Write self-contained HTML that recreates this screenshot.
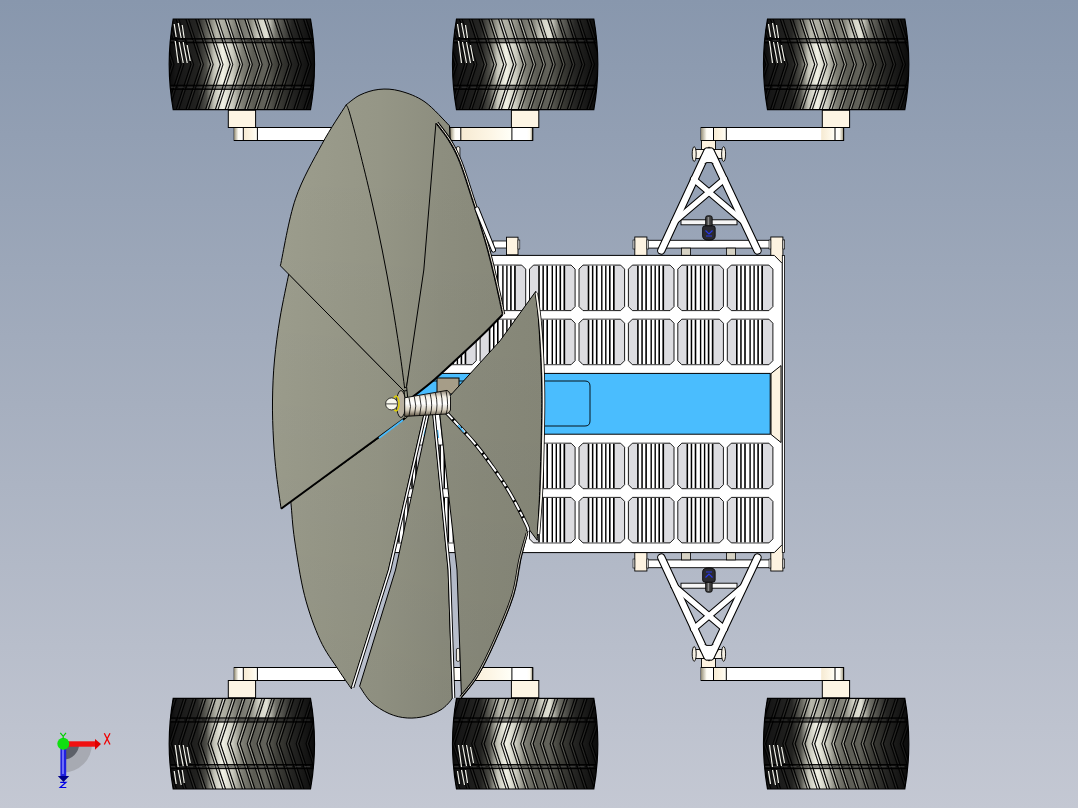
<!DOCTYPE html>
<html><head><meta charset="utf-8"><title>Rover CAD</title>
<style>html,body{margin:0;padding:0;width:1078px;height:808px;overflow:hidden;background:#a6afbf}svg{display:block}</style>
</head><body>
<svg width="1078" height="808" viewBox="0 0 1078 808">
<defs><linearGradient id="bg" x1="0" y1="0" x2="0" y2="1">
<stop offset="0" stop-color="#8897ad"/><stop offset="0.5" stop-color="#a6afbf"/><stop offset="1" stop-color="#c4c8d3"/></linearGradient>
<linearGradient id="endL" x1="0" y1="0" x2="1" y2="0"><stop offset="0" stop-color="#9a937a"/><stop offset="0.45" stop-color="#fffdf5"/><stop offset="1" stop-color="#fff"/></linearGradient>
<linearGradient id="endR" x1="0" y1="0" x2="1" y2="0"><stop offset="0" stop-color="#fff"/><stop offset="0.55" stop-color="#fffdf5"/><stop offset="1" stop-color="#9a937a"/></linearGradient>
<linearGradient id="creamG" x1="0" y1="0" x2="1" y2="0"><stop offset="0" stop-color="#f6ead2"/><stop offset="0.6" stop-color="#fdf6e6"/><stop offset="1" stop-color="#fffff8"/></linearGradient>
<linearGradient id="petal" gradientUnits="userSpaceOnUse" x1="272" y1="0" x2="545" y2="0">
<stop offset="0" stop-color="#9d9e8e"/><stop offset="0.139" stop-color="#9a9b8b"/><stop offset="0.396" stop-color="#959686"/><stop offset="0.615" stop-color="#8d8e7f"/><stop offset="0.762" stop-color="#8a8b7c"/><stop offset="1" stop-color="#878879"/></linearGradient>
<linearGradient id="vshade" gradientUnits="userSpaceOnUse" x1="0" y1="150" x2="0" y2="720">
<stop offset="0" stop-color="#000" stop-opacity="0"/><stop offset="1" stop-color="#000" stop-opacity="0.05"/></linearGradient>
<linearGradient id="spring" x1="0" y1="0" x2="0" y2="1">
<stop offset="0" stop-color="#8a8070"/><stop offset="0.25" stop-color="#f4f0e6"/><stop offset="0.5" stop-color="#ffffff"/><stop offset="0.75" stop-color="#d8d0c0"/><stop offset="1" stop-color="#5a5040"/></linearGradient>

<clipPath id="tclip"><path d="M4,0 H141.3 Q149.3,45.35 141.3,90.7 H4 Q-4,45.35 4,0 Z"/></clipPath>
<linearGradient id="tgrad" x1="0" y1="0" x2="1" y2="0">
<stop offset="0" stop-color="#080808"/>
<stop offset="0.05" stop-color="#161616"/>
<stop offset="0.2" stop-color="#222220"/>
<stop offset="0.26" stop-color="#50504a"/>
<stop offset="0.31" stop-color="#c0c0b4"/>
<stop offset="0.37" stop-color="#f2f2e6"/>
<stop offset="0.44" stop-color="#c8c8bc"/>
<stop offset="0.5" stop-color="#808076"/>
<stop offset="0.58" stop-color="#5c5c54"/>
<stop offset="0.66" stop-color="#62625a"/>
<stop offset="0.74" stop-color="#3e3e38"/>
<stop offset="0.84" stop-color="#242422"/>
<stop offset="1" stop-color="#0a0a0a"/>
</linearGradient>
<linearGradient id="tgradHi" gradientUnits="userSpaceOnUse" x1="0" y1="0" x2="145.3" y2="0">
<stop offset="0" stop-color="#202020"/>
<stop offset="0.2" stop-color="#3a3a36"/>
<stop offset="0.28" stop-color="#c8c8bc"/>
<stop offset="0.37" stop-color="#ffffff"/>
<stop offset="0.48" stop-color="#e0e0d4"/>
<stop offset="0.62" stop-color="#b0b0a6"/>
<stop offset="0.72" stop-color="#808078"/>
<stop offset="0.85" stop-color="#3a3a36"/>
<stop offset="1" stop-color="#1a1a1a"/>
</linearGradient>
<linearGradient id="tgradTop" x1="0" y1="0" x2="1" y2="0">
<stop offset="0" stop-color="#080808"/>
<stop offset="0.05" stop-color="#161616"/>
<stop offset="0.2" stop-color="#262624"/>
<stop offset="0.27" stop-color="#6a6a62"/>
<stop offset="0.33" stop-color="#b8b8ac"/>
<stop offset="0.4" stop-color="#a8a89c"/>
<stop offset="0.48" stop-color="#707068"/>
<stop offset="0.56" stop-color="#8a8a80"/>
<stop offset="0.62" stop-color="#d4d4c8"/>
<stop offset="0.67" stop-color="#e0e0d4"/>
<stop offset="0.73" stop-color="#707068"/>
<stop offset="0.84" stop-color="#262624"/>
<stop offset="1" stop-color="#0a0a0a"/>
</linearGradient>
<g id="treadR">
<path d="M-23.1,-2 L-7.6,45.4 L-23.1,92.7" fill="none" stroke="#000" stroke-width="1.3" stroke-opacity="0.95"/>
<path d="M-21.8,-2 L-6.3,45.4 L-21.8,92.7" fill="none" stroke="url(#tgradHi)" stroke-width="0.8" stroke-opacity="0.8"/>
<path d="M-20.5,-2 L-5.0,45.4 L-20.5,92.7" fill="none" stroke="#000" stroke-width="1.1" stroke-opacity="0.9"/>
<path d="M-13.3,-2 L2.2,45.4 L-13.3,92.7" fill="none" stroke="#000" stroke-width="1.3" stroke-opacity="0.95"/>
<path d="M-12.0,-2 L3.5,45.4 L-12.0,92.7" fill="none" stroke="url(#tgradHi)" stroke-width="0.8" stroke-opacity="0.8"/>
<path d="M-10.7,-2 L4.8,45.4 L-10.7,92.7" fill="none" stroke="#000" stroke-width="1.1" stroke-opacity="0.9"/>
<path d="M-3.5,-2 L12.0,45.4 L-3.5,92.7" fill="none" stroke="#000" stroke-width="1.3" stroke-opacity="0.95"/>
<path d="M-2.2,-2 L13.3,45.4 L-2.2,92.7" fill="none" stroke="url(#tgradHi)" stroke-width="0.8" stroke-opacity="0.8"/>
<path d="M-0.9,-2 L14.6,45.4 L-0.9,92.7" fill="none" stroke="#000" stroke-width="1.1" stroke-opacity="0.9"/>
<path d="M6.3,-2 L21.8,45.4 L6.3,92.7" fill="none" stroke="#000" stroke-width="1.3" stroke-opacity="0.95"/>
<path d="M7.6,-2 L23.1,45.4 L7.6,92.7" fill="none" stroke="url(#tgradHi)" stroke-width="0.8" stroke-opacity="0.8"/>
<path d="M8.9,-2 L24.4,45.4 L8.9,92.7" fill="none" stroke="#000" stroke-width="1.1" stroke-opacity="0.9"/>
<path d="M16.1,-2 L31.6,45.4 L16.1,92.7" fill="none" stroke="#000" stroke-width="1.3" stroke-opacity="0.95"/>
<path d="M17.4,-2 L32.9,45.4 L17.4,92.7" fill="none" stroke="url(#tgradHi)" stroke-width="0.8" stroke-opacity="0.8"/>
<path d="M18.7,-2 L34.2,45.4 L18.7,92.7" fill="none" stroke="#000" stroke-width="1.1" stroke-opacity="0.9"/>
<path d="M25.9,-2 L41.4,45.4 L25.9,92.7" fill="none" stroke="#000" stroke-width="1.3" stroke-opacity="0.95"/>
<path d="M27.2,-2 L42.7,45.4 L27.2,92.7" fill="none" stroke="url(#tgradHi)" stroke-width="0.8" stroke-opacity="0.8"/>
<path d="M28.5,-2 L44.0,45.4 L28.5,92.7" fill="none" stroke="#000" stroke-width="1.1" stroke-opacity="0.9"/>
<path d="M35.7,-2 L51.2,45.4 L35.7,92.7" fill="none" stroke="#000" stroke-width="1.3" stroke-opacity="0.95"/>
<path d="M37.0,-2 L52.5,45.4 L37.0,92.7" fill="none" stroke="url(#tgradHi)" stroke-width="0.8" stroke-opacity="0.8"/>
<path d="M38.3,-2 L53.8,45.4 L38.3,92.7" fill="none" stroke="#000" stroke-width="1.1" stroke-opacity="0.9"/>
<path d="M45.5,-2 L61.0,45.4 L45.5,92.7" fill="none" stroke="#000" stroke-width="1.3" stroke-opacity="0.95"/>
<path d="M46.8,-2 L62.3,45.4 L46.8,92.7" fill="none" stroke="url(#tgradHi)" stroke-width="0.8" stroke-opacity="0.8"/>
<path d="M48.1,-2 L63.6,45.4 L48.1,92.7" fill="none" stroke="#000" stroke-width="1.1" stroke-opacity="0.9"/>
<path d="M55.3,-2 L70.8,45.4 L55.3,92.7" fill="none" stroke="#000" stroke-width="1.3" stroke-opacity="0.95"/>
<path d="M56.6,-2 L72.1,45.4 L56.6,92.7" fill="none" stroke="url(#tgradHi)" stroke-width="0.8" stroke-opacity="0.8"/>
<path d="M57.9,-2 L73.4,45.4 L57.9,92.7" fill="none" stroke="#000" stroke-width="1.1" stroke-opacity="0.9"/>
<path d="M65.1,-2 L80.6,45.4 L65.1,92.7" fill="none" stroke="#000" stroke-width="1.3" stroke-opacity="0.95"/>
<path d="M66.4,-2 L81.9,45.4 L66.4,92.7" fill="none" stroke="url(#tgradHi)" stroke-width="0.8" stroke-opacity="0.8"/>
<path d="M67.7,-2 L83.2,45.4 L67.7,92.7" fill="none" stroke="#000" stroke-width="1.1" stroke-opacity="0.9"/>
<path d="M74.9,-2 L90.4,45.4 L74.9,92.7" fill="none" stroke="#000" stroke-width="1.3" stroke-opacity="0.95"/>
<path d="M76.2,-2 L91.7,45.4 L76.2,92.7" fill="none" stroke="url(#tgradHi)" stroke-width="0.8" stroke-opacity="0.8"/>
<path d="M77.5,-2 L93.0,45.4 L77.5,92.7" fill="none" stroke="#000" stroke-width="1.1" stroke-opacity="0.9"/>
<path d="M84.7,-2 L100.2,45.4 L84.7,92.7" fill="none" stroke="#000" stroke-width="1.3" stroke-opacity="0.95"/>
<path d="M86.0,-2 L101.5,45.4 L86.0,92.7" fill="none" stroke="url(#tgradHi)" stroke-width="0.8" stroke-opacity="0.8"/>
<path d="M87.3,-2 L102.8,45.4 L87.3,92.7" fill="none" stroke="#000" stroke-width="1.1" stroke-opacity="0.9"/>
<path d="M94.5,-2 L110.0,45.4 L94.5,92.7" fill="none" stroke="#000" stroke-width="1.3" stroke-opacity="0.95"/>
<path d="M95.8,-2 L111.3,45.4 L95.8,92.7" fill="none" stroke="url(#tgradHi)" stroke-width="0.8" stroke-opacity="0.8"/>
<path d="M97.1,-2 L112.6,45.4 L97.1,92.7" fill="none" stroke="#000" stroke-width="1.1" stroke-opacity="0.9"/>
<path d="M104.3,-2 L119.8,45.4 L104.3,92.7" fill="none" stroke="#000" stroke-width="1.3" stroke-opacity="0.95"/>
<path d="M105.6,-2 L121.1,45.4 L105.6,92.7" fill="none" stroke="url(#tgradHi)" stroke-width="0.8" stroke-opacity="0.8"/>
<path d="M106.9,-2 L122.4,45.4 L106.9,92.7" fill="none" stroke="#000" stroke-width="1.1" stroke-opacity="0.9"/>
<path d="M114.1,-2 L129.6,45.4 L114.1,92.7" fill="none" stroke="#000" stroke-width="1.3" stroke-opacity="0.95"/>
<path d="M115.4,-2 L130.9,45.4 L115.4,92.7" fill="none" stroke="url(#tgradHi)" stroke-width="0.8" stroke-opacity="0.8"/>
<path d="M116.7,-2 L132.2,45.4 L116.7,92.7" fill="none" stroke="#000" stroke-width="1.1" stroke-opacity="0.9"/>
<path d="M123.9,-2 L139.4,45.4 L123.9,92.7" fill="none" stroke="#000" stroke-width="1.3" stroke-opacity="0.95"/>
<path d="M125.2,-2 L140.7,45.4 L125.2,92.7" fill="none" stroke="url(#tgradHi)" stroke-width="0.8" stroke-opacity="0.8"/>
<path d="M126.5,-2 L142.0,45.4 L126.5,92.7" fill="none" stroke="#000" stroke-width="1.1" stroke-opacity="0.9"/>
<path d="M133.7,-2 L149.2,45.4 L133.7,92.7" fill="none" stroke="#000" stroke-width="1.3" stroke-opacity="0.95"/>
<path d="M135.0,-2 L150.5,45.4 L135.0,92.7" fill="none" stroke="url(#tgradHi)" stroke-width="0.8" stroke-opacity="0.8"/>
<path d="M136.3,-2 L151.8,45.4 L136.3,92.7" fill="none" stroke="#000" stroke-width="1.1" stroke-opacity="0.9"/>
<path d="M143.5,-2 L159.0,45.4 L143.5,92.7" fill="none" stroke="#000" stroke-width="1.3" stroke-opacity="0.95"/>
<path d="M144.8,-2 L160.3,45.4 L144.8,92.7" fill="none" stroke="url(#tgradHi)" stroke-width="0.8" stroke-opacity="0.8"/>
<path d="M146.1,-2 L161.6,45.4 L146.1,92.7" fill="none" stroke="#000" stroke-width="1.1" stroke-opacity="0.9"/>
<path d="M153.3,-2 L168.8,45.4 L153.3,92.7" fill="none" stroke="#000" stroke-width="1.3" stroke-opacity="0.95"/>
<path d="M154.6,-2 L170.1,45.4 L154.6,92.7" fill="none" stroke="url(#tgradHi)" stroke-width="0.8" stroke-opacity="0.8"/>
<path d="M155.9,-2 L171.4,45.4 L155.9,92.7" fill="none" stroke="#000" stroke-width="1.1" stroke-opacity="0.9"/>
<path d="M163.1,-2 L178.6,45.4 L163.1,92.7" fill="none" stroke="#000" stroke-width="1.3" stroke-opacity="0.95"/>
<path d="M164.4,-2 L179.9,45.4 L164.4,92.7" fill="none" stroke="url(#tgradHi)" stroke-width="0.8" stroke-opacity="0.8"/>
<path d="M165.7,-2 L181.2,45.4 L165.7,92.7" fill="none" stroke="#000" stroke-width="1.1" stroke-opacity="0.9"/>
<path d="M172.9,-2 L188.4,45.4 L172.9,92.7" fill="none" stroke="#000" stroke-width="1.3" stroke-opacity="0.95"/>
<path d="M174.2,-2 L189.7,45.4 L174.2,92.7" fill="none" stroke="url(#tgradHi)" stroke-width="0.8" stroke-opacity="0.8"/>
<path d="M175.5,-2 L191.0,45.4 L175.5,92.7" fill="none" stroke="#000" stroke-width="1.1" stroke-opacity="0.9"/>
<rect x="0" y="19.2" width="145.3" height="5" fill="#000" fill-opacity="0.45"/>
<line x1="0" y1="19.7" x2="145.3" y2="19.7" stroke="#000" stroke-width="1"/>
<line x1="0" y1="23.7" x2="145.3" y2="23.7" stroke="#000" stroke-width="1"/>
<line x1="0" y1="21.7" x2="145.3" y2="21.7" stroke="#fff" stroke-width="1.1" stroke-opacity="0.16" stroke-dasharray="6 3"/>
<rect x="0" y="65.8" width="145.3" height="5" fill="#000" fill-opacity="0.45"/>
<line x1="0" y1="66.3" x2="145.3" y2="66.3" stroke="#000" stroke-width="1"/>
<line x1="0" y1="70.3" x2="145.3" y2="70.3" stroke="#000" stroke-width="1"/>
<line x1="0" y1="68.3" x2="145.3" y2="68.3" stroke="#fff" stroke-width="1.1" stroke-opacity="0.16" stroke-dasharray="6 3"/>
</g>
<g id="treadL">
<path d="M7.9,-2 L-7.6,45.4 L7.9,92.7" fill="none" stroke="#000" stroke-width="1.3" stroke-opacity="0.95"/>
<path d="M6.6,-2 L-8.9,45.4 L6.6,92.7" fill="none" stroke="url(#tgradHi)" stroke-width="0.8" stroke-opacity="0.8"/>
<path d="M5.3,-2 L-10.2,45.4 L5.3,92.7" fill="none" stroke="#000" stroke-width="1.1" stroke-opacity="0.9"/>
<path d="M17.7,-2 L2.2,45.4 L17.7,92.7" fill="none" stroke="#000" stroke-width="1.3" stroke-opacity="0.95"/>
<path d="M16.4,-2 L0.9,45.4 L16.4,92.7" fill="none" stroke="url(#tgradHi)" stroke-width="0.8" stroke-opacity="0.8"/>
<path d="M15.1,-2 L-0.4,45.4 L15.1,92.7" fill="none" stroke="#000" stroke-width="1.1" stroke-opacity="0.9"/>
<path d="M27.5,-2 L12.0,45.4 L27.5,92.7" fill="none" stroke="#000" stroke-width="1.3" stroke-opacity="0.95"/>
<path d="M26.2,-2 L10.7,45.4 L26.2,92.7" fill="none" stroke="url(#tgradHi)" stroke-width="0.8" stroke-opacity="0.8"/>
<path d="M24.9,-2 L9.4,45.4 L24.9,92.7" fill="none" stroke="#000" stroke-width="1.1" stroke-opacity="0.9"/>
<path d="M37.3,-2 L21.8,45.4 L37.3,92.7" fill="none" stroke="#000" stroke-width="1.3" stroke-opacity="0.95"/>
<path d="M36.0,-2 L20.5,45.4 L36.0,92.7" fill="none" stroke="url(#tgradHi)" stroke-width="0.8" stroke-opacity="0.8"/>
<path d="M34.7,-2 L19.2,45.4 L34.7,92.7" fill="none" stroke="#000" stroke-width="1.1" stroke-opacity="0.9"/>
<path d="M47.1,-2 L31.6,45.4 L47.1,92.7" fill="none" stroke="#000" stroke-width="1.3" stroke-opacity="0.95"/>
<path d="M45.8,-2 L30.3,45.4 L45.8,92.7" fill="none" stroke="url(#tgradHi)" stroke-width="0.8" stroke-opacity="0.8"/>
<path d="M44.5,-2 L29.0,45.4 L44.5,92.7" fill="none" stroke="#000" stroke-width="1.1" stroke-opacity="0.9"/>
<path d="M56.9,-2 L41.4,45.4 L56.9,92.7" fill="none" stroke="#000" stroke-width="1.3" stroke-opacity="0.95"/>
<path d="M55.6,-2 L40.1,45.4 L55.6,92.7" fill="none" stroke="url(#tgradHi)" stroke-width="0.8" stroke-opacity="0.8"/>
<path d="M54.3,-2 L38.8,45.4 L54.3,92.7" fill="none" stroke="#000" stroke-width="1.1" stroke-opacity="0.9"/>
<path d="M66.7,-2 L51.2,45.4 L66.7,92.7" fill="none" stroke="#000" stroke-width="1.3" stroke-opacity="0.95"/>
<path d="M65.4,-2 L49.9,45.4 L65.4,92.7" fill="none" stroke="url(#tgradHi)" stroke-width="0.8" stroke-opacity="0.8"/>
<path d="M64.1,-2 L48.6,45.4 L64.1,92.7" fill="none" stroke="#000" stroke-width="1.1" stroke-opacity="0.9"/>
<path d="M76.5,-2 L61.0,45.4 L76.5,92.7" fill="none" stroke="#000" stroke-width="1.3" stroke-opacity="0.95"/>
<path d="M75.2,-2 L59.7,45.4 L75.2,92.7" fill="none" stroke="url(#tgradHi)" stroke-width="0.8" stroke-opacity="0.8"/>
<path d="M73.9,-2 L58.4,45.4 L73.9,92.7" fill="none" stroke="#000" stroke-width="1.1" stroke-opacity="0.9"/>
<path d="M86.3,-2 L70.8,45.4 L86.3,92.7" fill="none" stroke="#000" stroke-width="1.3" stroke-opacity="0.95"/>
<path d="M85.0,-2 L69.5,45.4 L85.0,92.7" fill="none" stroke="url(#tgradHi)" stroke-width="0.8" stroke-opacity="0.8"/>
<path d="M83.7,-2 L68.2,45.4 L83.7,92.7" fill="none" stroke="#000" stroke-width="1.1" stroke-opacity="0.9"/>
<path d="M96.1,-2 L80.6,45.4 L96.1,92.7" fill="none" stroke="#000" stroke-width="1.3" stroke-opacity="0.95"/>
<path d="M94.8,-2 L79.3,45.4 L94.8,92.7" fill="none" stroke="url(#tgradHi)" stroke-width="0.8" stroke-opacity="0.8"/>
<path d="M93.5,-2 L78.0,45.4 L93.5,92.7" fill="none" stroke="#000" stroke-width="1.1" stroke-opacity="0.9"/>
<path d="M105.9,-2 L90.4,45.4 L105.9,92.7" fill="none" stroke="#000" stroke-width="1.3" stroke-opacity="0.95"/>
<path d="M104.6,-2 L89.1,45.4 L104.6,92.7" fill="none" stroke="url(#tgradHi)" stroke-width="0.8" stroke-opacity="0.8"/>
<path d="M103.3,-2 L87.8,45.4 L103.3,92.7" fill="none" stroke="#000" stroke-width="1.1" stroke-opacity="0.9"/>
<path d="M115.7,-2 L100.2,45.4 L115.7,92.7" fill="none" stroke="#000" stroke-width="1.3" stroke-opacity="0.95"/>
<path d="M114.4,-2 L98.9,45.4 L114.4,92.7" fill="none" stroke="url(#tgradHi)" stroke-width="0.8" stroke-opacity="0.8"/>
<path d="M113.1,-2 L97.6,45.4 L113.1,92.7" fill="none" stroke="#000" stroke-width="1.1" stroke-opacity="0.9"/>
<path d="M125.5,-2 L110.0,45.4 L125.5,92.7" fill="none" stroke="#000" stroke-width="1.3" stroke-opacity="0.95"/>
<path d="M124.2,-2 L108.7,45.4 L124.2,92.7" fill="none" stroke="url(#tgradHi)" stroke-width="0.8" stroke-opacity="0.8"/>
<path d="M122.9,-2 L107.4,45.4 L122.9,92.7" fill="none" stroke="#000" stroke-width="1.1" stroke-opacity="0.9"/>
<path d="M135.3,-2 L119.8,45.4 L135.3,92.7" fill="none" stroke="#000" stroke-width="1.3" stroke-opacity="0.95"/>
<path d="M134.0,-2 L118.5,45.4 L134.0,92.7" fill="none" stroke="url(#tgradHi)" stroke-width="0.8" stroke-opacity="0.8"/>
<path d="M132.7,-2 L117.2,45.4 L132.7,92.7" fill="none" stroke="#000" stroke-width="1.1" stroke-opacity="0.9"/>
<path d="M145.1,-2 L129.6,45.4 L145.1,92.7" fill="none" stroke="#000" stroke-width="1.3" stroke-opacity="0.95"/>
<path d="M143.8,-2 L128.3,45.4 L143.8,92.7" fill="none" stroke="url(#tgradHi)" stroke-width="0.8" stroke-opacity="0.8"/>
<path d="M142.5,-2 L127.0,45.4 L142.5,92.7" fill="none" stroke="#000" stroke-width="1.1" stroke-opacity="0.9"/>
<path d="M154.9,-2 L139.4,45.4 L154.9,92.7" fill="none" stroke="#000" stroke-width="1.3" stroke-opacity="0.95"/>
<path d="M153.6,-2 L138.1,45.4 L153.6,92.7" fill="none" stroke="url(#tgradHi)" stroke-width="0.8" stroke-opacity="0.8"/>
<path d="M152.3,-2 L136.8,45.4 L152.3,92.7" fill="none" stroke="#000" stroke-width="1.1" stroke-opacity="0.9"/>
<path d="M164.7,-2 L149.2,45.4 L164.7,92.7" fill="none" stroke="#000" stroke-width="1.3" stroke-opacity="0.95"/>
<path d="M163.4,-2 L147.9,45.4 L163.4,92.7" fill="none" stroke="url(#tgradHi)" stroke-width="0.8" stroke-opacity="0.8"/>
<path d="M162.1,-2 L146.6,45.4 L162.1,92.7" fill="none" stroke="#000" stroke-width="1.1" stroke-opacity="0.9"/>
<path d="M174.5,-2 L159.0,45.4 L174.5,92.7" fill="none" stroke="#000" stroke-width="1.3" stroke-opacity="0.95"/>
<path d="M173.2,-2 L157.7,45.4 L173.2,92.7" fill="none" stroke="url(#tgradHi)" stroke-width="0.8" stroke-opacity="0.8"/>
<path d="M171.9,-2 L156.4,45.4 L171.9,92.7" fill="none" stroke="#000" stroke-width="1.1" stroke-opacity="0.9"/>
<path d="M184.3,-2 L168.8,45.4 L184.3,92.7" fill="none" stroke="#000" stroke-width="1.3" stroke-opacity="0.95"/>
<path d="M183.0,-2 L167.5,45.4 L183.0,92.7" fill="none" stroke="url(#tgradHi)" stroke-width="0.8" stroke-opacity="0.8"/>
<path d="M181.7,-2 L166.2,45.4 L181.7,92.7" fill="none" stroke="#000" stroke-width="1.1" stroke-opacity="0.9"/>
<path d="M194.1,-2 L178.6,45.4 L194.1,92.7" fill="none" stroke="#000" stroke-width="1.3" stroke-opacity="0.95"/>
<path d="M192.8,-2 L177.3,45.4 L192.8,92.7" fill="none" stroke="url(#tgradHi)" stroke-width="0.8" stroke-opacity="0.8"/>
<path d="M191.5,-2 L176.0,45.4 L191.5,92.7" fill="none" stroke="#000" stroke-width="1.1" stroke-opacity="0.9"/>
<path d="M203.9,-2 L188.4,45.4 L203.9,92.7" fill="none" stroke="#000" stroke-width="1.3" stroke-opacity="0.95"/>
<path d="M202.6,-2 L187.1,45.4 L202.6,92.7" fill="none" stroke="url(#tgradHi)" stroke-width="0.8" stroke-opacity="0.8"/>
<path d="M201.3,-2 L185.8,45.4 L201.3,92.7" fill="none" stroke="#000" stroke-width="1.1" stroke-opacity="0.9"/>
<rect x="0" y="19.2" width="145.3" height="5" fill="#000" fill-opacity="0.45"/>
<line x1="0" y1="19.7" x2="145.3" y2="19.7" stroke="#000" stroke-width="1"/>
<line x1="0" y1="23.7" x2="145.3" y2="23.7" stroke="#000" stroke-width="1"/>
<line x1="0" y1="21.7" x2="145.3" y2="21.7" stroke="#fff" stroke-width="1.1" stroke-opacity="0.16" stroke-dasharray="6 3"/>
<rect x="0" y="65.8" width="145.3" height="5" fill="#000" fill-opacity="0.45"/>
<line x1="0" y1="66.3" x2="145.3" y2="66.3" stroke="#000" stroke-width="1"/>
<line x1="0" y1="70.3" x2="145.3" y2="70.3" stroke="#000" stroke-width="1"/>
<line x1="0" y1="68.3" x2="145.3" y2="68.3" stroke="#fff" stroke-width="1.1" stroke-opacity="0.16" stroke-dasharray="6 3"/>
</g>
<g id="thl">
<line x1="5" y1="5" x2="7" y2="18" stroke="#f4f4ec" stroke-width="1.2"/>
<line x1="9" y1="4" x2="12" y2="19" stroke="#f4f4ec" stroke-width="1.2"/>
<line x1="13" y1="6" x2="15" y2="19" stroke="#f4f4ec" stroke-width="1.2"/>
<line x1="6" y1="22" x2="9" y2="44" stroke="#f4f4ec" stroke-width="1.2"/>
<line x1="10" y1="23" x2="14" y2="44" stroke="#f4f4ec" stroke-width="1.2"/>
<line x1="14" y1="23" x2="18" y2="44" stroke="#f4f4ec" stroke-width="1.2"/>
<line x1="18" y1="26" x2="21" y2="42" stroke="#f4f4ec" stroke-width="1.2"/>
</g>
<g id="thlB">
<line x1="7" y1="85.7" x2="5" y2="72.7" stroke="#f4f4ec" stroke-width="1.2"/>
<line x1="12" y1="86.7" x2="9" y2="71.7" stroke="#f4f4ec" stroke-width="1.2"/>
<line x1="15" y1="84.7" x2="13" y2="71.7" stroke="#f4f4ec" stroke-width="1.2"/>
<line x1="9" y1="68.7" x2="6" y2="46.7" stroke="#f4f4ec" stroke-width="1.2"/>
<line x1="14" y1="67.7" x2="10" y2="46.7" stroke="#f4f4ec" stroke-width="1.2"/>
<line x1="18" y1="67.7" x2="14" y2="46.7" stroke="#f4f4ec" stroke-width="1.2"/>
<line x1="21" y1="64.7" x2="18" y2="48.7" stroke="#f4f4ec" stroke-width="1.2"/>
</g>
<g id="cell"><path d="M4,0 H41.6 L45.6,4 V41.5 L41.6,45.5 H4 L0,41.5 V4 Z" fill="#dcdce0" stroke="#000" stroke-width="0.9"/><rect x="8.7" y="0.5" width="27.000000000000004" height="44.5" fill="#fff"/><rect x="8.7" y="0.5" width="1.6000000000000014" height="44.5" fill="#000"/><rect x="12.9" y="0.5" width="1.5" height="44.5" fill="#000"/><rect x="16.9" y="0.5" width="1.6000000000000014" height="44.5" fill="#000"/><rect x="22.1" y="0.5" width="1.3999999999999986" height="44.5" fill="#000"/><rect x="26.1" y="0.5" width="1.3999999999999986" height="44.5" fill="#000"/><rect x="30.0" y="0.5" width="1.6000000000000014" height="44.5" fill="#000"/><rect x="34.0" y="0.5" width="1.7000000000000028" height="44.5" fill="#000"/></g></defs>
<rect width="1078" height="808" fill="url(#bg)"/>
<g id="topstruct"><rect x="228.3" y="110.2" width="27.299999999999983" height="17.3" fill="#fdf5e4" stroke="#000" stroke-width="1"/>
<rect x="234.2" y="127.5" width="110.80000000000001" height="13" fill="#fff" stroke="#000" stroke-width="1"/>
<rect x="234.2" y="128" width="9.100000000000023" height="12" fill="url(#endL)"/>
<rect x="243.3" y="128" width="14.099999999999966" height="12" fill="url(#creamG)"/>
<line x1="243.3" y1="127.5" x2="243.3" y2="140.5" stroke="#000" stroke-width="1"/>
<line x1="257.4" y1="127.5" x2="257.4" y2="140.5" stroke="#000" stroke-width="1"/>
<rect x="511.4" y="110.2" width="27.399999999999977" height="17.3" fill="#fdf5e4" stroke="#000" stroke-width="1"/>
<rect x="450.4" y="127.5" width="82.30000000000007" height="13" fill="#fff" stroke="#000" stroke-width="1"/>
<rect x="450.4" y="128" width="10.400000000000034" height="12" fill="url(#endL)"/>
<rect x="460.8" y="128" width="51.099999999999966" height="12" fill="url(#creamG)"/>
<rect x="526.7" y="128" width="6.0" height="12" fill="url(#endR)"/>
<line x1="460.8" y1="127.5" x2="460.8" y2="140.5" stroke="#000" stroke-width="1"/>
<line x1="511.9" y1="127.5" x2="511.9" y2="140.5" stroke="#000" stroke-width="1"/>
<line x1="532.7" y1="127.5" x2="532.7" y2="140.5" stroke="#000" stroke-width="1"/>
<rect x="822.3" y="110.2" width="27.300000000000068" height="17.3" fill="#fdf5e4" stroke="#000" stroke-width="1"/>
<rect x="701.1" y="127.5" width="142.5" height="13" fill="#fff" stroke="#000" stroke-width="1"/>
<rect x="701.1" y="128" width="12.399999999999977" height="12" fill="url(#endL)"/>
<rect x="713.5" y="128" width="12.799999999999955" height="12" fill="url(#creamG)"/>
<rect x="821.2" y="128" width="13.799999999999955" height="12" fill="url(#creamG)"/>
<rect x="835" y="128" width="8.600000000000023" height="12" fill="url(#endR)"/>
<line x1="713.5" y1="127.5" x2="713.5" y2="140.5" stroke="#000" stroke-width="1"/>
<line x1="726.3" y1="127.5" x2="726.3" y2="140.5" stroke="#000" stroke-width="1"/>
<line x1="835" y1="127.5" x2="835" y2="140.5" stroke="#000" stroke-width="1"/>
<line x1="843.6" y1="127.5" x2="843.6" y2="140.5" stroke="#000" stroke-width="1"/>
<rect x="701.5" y="140.5" width="14" height="9" fill="#fdf3e1" stroke="#000" stroke-width="0.9"/>
<rect x="694" y="149.5" width="30" height="9" fill="#fbf7ee" stroke="#000" stroke-width="0.9"/>
<ellipse cx="694.2" cy="154.1" rx="2" ry="7.4" fill="#f4efe2" stroke="#000" stroke-width="0.9"/>
<ellipse cx="723.6" cy="154.1" rx="2" ry="7.4" fill="#f4efe2" stroke="#000" stroke-width="0.9"/>
<rect x="681" y="219.8" width="56" height="5" fill="#f6f6f6" stroke="#000" stroke-width="0.9"/>
<rect x="634.8" y="240.3" width="149.7" height="7.8" fill="#fff" stroke="#000" stroke-width="0.9"/>
<rect x="681.5" y="248.1" width="8.9" height="7.3" fill="#d6d2c4" stroke="#000" stroke-width="0.8"/>
<rect x="726.6" y="248.1" width="8.9" height="7.3" fill="#d6d2c4" stroke="#000" stroke-width="0.8"/>
<rect x="634.8" y="237" width="12.1" height="18.6" fill="#fdf3e1" stroke="#000" stroke-width="0.9"/>
<rect x="633.0" y="240" width="1.8" height="9" fill="#eee" stroke="#000" stroke-width="0.6"/>
<rect x="646.9" y="240" width="1.8" height="9" fill="#eee" stroke="#000" stroke-width="0.6"/>
<rect x="770.8" y="237" width="12.1" height="27" fill="#fdf3e1" stroke="#000" stroke-width="0.9"/>
<rect x="769.0" y="240" width="1.8" height="9" fill="#eee" stroke="#000" stroke-width="0.6"/>
<rect x="782.9" y="240" width="1.8" height="9" fill="#eee" stroke="#000" stroke-width="0.6"/>
<line x1="707.3" y1="151.5" x2="661.3" y2="250.5" stroke="#000" stroke-width="8.4" stroke-linecap="round"/>
<line x1="710.7" y1="151.5" x2="757.5" y2="250.5" stroke="#000" stroke-width="8.4" stroke-linecap="round"/>
<line x1="693.5" y1="179" x2="744" y2="222" stroke="#000" stroke-width="7.2" stroke-linecap="round"/>
<line x1="724.5" y1="179" x2="674" y2="222" stroke="#000" stroke-width="7.2" stroke-linecap="round"/>
<path d="M703,156 L709,149 L715,156 Z" fill="#000" stroke="#000" stroke-width="3.4000000000000004"/>
<line x1="707.3" y1="151.5" x2="661.3" y2="250.5" stroke="#fff" stroke-width="6.3" stroke-linecap="round"/>
<line x1="710.7" y1="151.5" x2="757.5" y2="250.5" stroke="#fff" stroke-width="6.3" stroke-linecap="round"/>
<line x1="693.5" y1="179" x2="744" y2="222" stroke="#fff" stroke-width="5.1" stroke-linecap="round"/>
<line x1="724.5" y1="179" x2="674" y2="222" stroke="#fff" stroke-width="5.1" stroke-linecap="round"/>
<path d="M703,156 L709,149 L715,156 Z" fill="#fff" stroke="#fff" stroke-width="1.2999999999999998"/>
<path d="M705.2,162.6 L709,153 L712.8,162.6 Z" fill="#fff" stroke="#fff" stroke-width="0.6"/>
<path d="M704.8,164 Q705.5,162.6 707,162.6 H711 Q712.5,162.6 713.2,164" fill="none" stroke="#000" stroke-width="1"/>
<rect x="705.6" y="215.8" width="6.6" height="11" rx="2" fill="#3c3c3c" stroke="#000" stroke-width="0.8"/>
<rect x="707.6" y="217" width="1.6" height="8" fill="#8a8a8a"/>
<path d="M702.6,228 Q702.6,225.8 705,225.8 H712.8 Q715.2,225.8 715.2,228 V236 Q715.2,240.2 709,240.2 Q702.6,240.2 702.6,236 Z" fill="#2a2a30" stroke="#000" stroke-width="0.8"/>
<path d="M705.5,230.5 L709,234 L712.5,230.5 M706,236 L712,236" stroke="#2838e8" stroke-width="1.2" fill="none"/>
<rect x="493" y="241" width="14" height="7" fill="#fff" stroke="#000" stroke-width="0.8"/>
<rect x="506.5" y="237.2" width="11.5" height="17.6" fill="#fdf3e1" stroke="#000" stroke-width="0.9"/>
<rect x="518" y="240" width="1.8" height="9" fill="#eee" stroke="#000" stroke-width="0.6"/>
<rect x="456.4" y="146.6" width="3.5" height="13" rx="1.5" fill="#f2eee4" stroke="#000" stroke-width="0.8"/></g>
<use href="#topstruct" transform="translate(0,808) scale(1,-1)"/>
<path d="M372,255.4 H774.3 L782.3,263.5 V544.5 L774.3,552.6 H372 Z" fill="#fff" stroke="#000" stroke-width="1"/>
<rect x="782.3" y="255.4" width="2.3" height="297.2" fill="#fff" stroke="#000" stroke-width="0.8"/>
<use href="#cell" x="381.2" y="265.1"/>
<use href="#cell" x="430.6" y="265.1"/>
<use href="#cell" x="480.1" y="265.1"/>
<use href="#cell" x="529.5" y="265.1"/>
<use href="#cell" x="579.0" y="265.1"/>
<use href="#cell" x="628.4" y="265.1"/>
<use href="#cell" x="677.8" y="265.1"/>
<use href="#cell" x="727.3" y="265.1"/>
<use href="#cell" x="381.2" y="319.2"/>
<use href="#cell" x="430.6" y="319.2"/>
<use href="#cell" x="480.1" y="319.2"/>
<use href="#cell" x="529.5" y="319.2"/>
<use href="#cell" x="579.0" y="319.2"/>
<use href="#cell" x="628.4" y="319.2"/>
<use href="#cell" x="677.8" y="319.2"/>
<use href="#cell" x="727.3" y="319.2"/>
<use href="#cell" x="381.2" y="443.2"/>
<use href="#cell" x="430.6" y="443.2"/>
<use href="#cell" x="480.1" y="443.2"/>
<use href="#cell" x="529.5" y="443.2"/>
<use href="#cell" x="579.0" y="443.2"/>
<use href="#cell" x="628.4" y="443.2"/>
<use href="#cell" x="677.8" y="443.2"/>
<use href="#cell" x="727.3" y="443.2"/>
<use href="#cell" x="381.2" y="497.4"/>
<use href="#cell" x="430.6" y="497.4"/>
<use href="#cell" x="480.1" y="497.4"/>
<use href="#cell" x="529.5" y="497.4"/>
<use href="#cell" x="579.0" y="497.4"/>
<use href="#cell" x="628.4" y="497.4"/>
<use href="#cell" x="677.8" y="497.4"/>
<use href="#cell" x="727.3" y="497.4"/>
<rect x="372" y="373.4" width="398.20000000000005" height="60.8" fill="#4abdfe" stroke="#000" stroke-width="1"/>
<path d="M420,381 H585 Q590,381 590,386 V421 Q590,426 585,426 H420" fill="none" stroke="#000" stroke-width="0.9"/>
<path d="M771,373.6 L781,365.6 V442.5 L771,434.4 Z" fill="#fdf3e1" stroke="#000" stroke-width="1"/>
<rect x="437" y="378" width="22" height="16" fill="#a69d88" stroke="#000" stroke-width="1"/>
<g transform="translate(169.2,19)"><g clip-path="url(#tclip)">
<rect x="-1" y="-1" width="147.3" height="92.7" fill="url(#tgrad)"/>
<rect x="-1" y="-1" width="147.3" height="20.5" fill="url(#tgradTop)"/>
<use href="#treadR"/><use href="#thl"/></g>
<path d="M4,0 H141.3 Q149.3,45.35 141.3,90.7 H4 Q-4,45.35 4,0 Z" fill="none" stroke="#000" stroke-width="1.2"/></g>
<g transform="translate(169.2,698.3)"><g clip-path="url(#tclip)">
<rect x="-1" y="-1" width="147.3" height="92.7" fill="url(#tgrad)"/>
<rect x="-1" y="-1" width="147.3" height="20.5" fill="url(#tgradTop)"/>
<use href="#treadL"/><use href="#thlB"/></g>
<path d="M4,0 H141.3 Q149.3,45.35 141.3,90.7 H4 Q-4,45.35 4,0 Z" fill="none" stroke="#000" stroke-width="1.2"/></g>
<g transform="translate(452.5,19)"><g clip-path="url(#tclip)">
<rect x="-1" y="-1" width="147.3" height="92.7" fill="url(#tgrad)"/>
<rect x="-1" y="-1" width="147.3" height="20.5" fill="url(#tgradTop)"/>
<use href="#treadR"/><use href="#thl"/></g>
<path d="M4,0 H141.3 Q149.3,45.35 141.3,90.7 H4 Q-4,45.35 4,0 Z" fill="none" stroke="#000" stroke-width="1.2"/></g>
<g transform="translate(452.5,698.3)"><g clip-path="url(#tclip)">
<rect x="-1" y="-1" width="147.3" height="92.7" fill="url(#tgrad)"/>
<rect x="-1" y="-1" width="147.3" height="20.5" fill="url(#tgradTop)"/>
<use href="#treadL"/><use href="#thlB"/></g>
<path d="M4,0 H141.3 Q149.3,45.35 141.3,90.7 H4 Q-4,45.35 4,0 Z" fill="none" stroke="#000" stroke-width="1.2"/></g>
<g transform="translate(763.5,19)"><g clip-path="url(#tclip)">
<rect x="-1" y="-1" width="147.3" height="92.7" fill="url(#tgrad)"/>
<rect x="-1" y="-1" width="147.3" height="20.5" fill="url(#tgradTop)"/>
<use href="#treadR"/><use href="#thl"/></g>
<path d="M4,0 H141.3 Q149.3,45.35 141.3,90.7 H4 Q-4,45.35 4,0 Z" fill="none" stroke="#000" stroke-width="1.2"/></g>
<g transform="translate(763.5,698.3)"><g clip-path="url(#tclip)">
<rect x="-1" y="-1" width="147.3" height="92.7" fill="url(#tgrad)"/>
<rect x="-1" y="-1" width="147.3" height="20.5" fill="url(#tgradTop)"/>
<use href="#treadL"/><use href="#thlB"/></g>
<path d="M4,0 H141.3 Q149.3,45.35 141.3,90.7 H4 Q-4,45.35 4,0 Z" fill="none" stroke="#000" stroke-width="1.2"/></g>
<rect x="398" y="383" width="16" height="17" fill="#959686"/>
<path d="M424.5,412 L429.6,412 L422.5,445 L417,445 Z" fill="#fff" stroke="#000" stroke-width="0.8"/>
<path d="M432.8,412 L439.5,412 L443,445 L436.2,445 Z" fill="#fff" stroke="#000" stroke-width="0.8"/>
<path d="M426,428 L424,436 M437.5,430 L438.5,438" stroke="#4abdfe" stroke-width="1.4"/>
<path d="M445,405 L448.7,397.3 L500,340.9 L535.8,291.3 C536.2,295.3 537.8,310.2 538.5,320.0 C539.2,329.8 539.7,338.5 540.2,349.3 C540.7,360.1 541.4,373.4 541.6,385.0 C541.8,396.6 541.9,401.5 541.6,418.6 C541.3,435.8 540.5,467.6 539.8,487.9 C539.1,508.2 537.6,531.5 537.2,540.2 L529.4,529.8 L528,531 C527.8,530.0 529.8,531.5 526.7,525.0 C523.6,518.5 515.1,501.8 509.3,492.0 C503.5,482.2 497.8,474.1 492.0,466.0 C486.2,457.9 480.5,450.3 474.7,443.3 C468.9,436.3 462.6,429.9 457.3,424.2 C452.0,418.5 445.4,411.5 443.0,409.0 Z" fill="url(#petal)" stroke="#000" stroke-width="1" stroke-linejoin="round" />
<path d="M438,410 L443,409 C445.4,411.5 452.0,418.5 457.3,424.2 C462.6,429.9 468.9,436.3 474.7,443.3 C480.5,450.3 486.2,457.9 492.0,466.0 C497.8,474.1 503.5,482.2 509.3,492.0 C515.1,501.8 523.6,518.5 526.7,525.0 C529.8,531.5 527.8,530.0 528.0,531.0 C526.8,535.8 523.2,549.2 520.8,560.0 C518.4,570.8 517.8,582.3 513.6,595.7 C509.4,609.1 501.7,626.8 495.8,640.2 C489.9,653.6 483.8,666.2 478.0,675.9 C472.2,685.5 464.1,694.4 461.3,698.1 L461.5,698 L457,570 L439.5,412 Z" fill="url(#petal)" stroke="#000" stroke-width="1" stroke-linejoin="round" />
<path d="M432.8,412 L448.2,570 L452.4,698 C450.8,701.0 445.5,706.9 441.0,709.7 C436.5,712.5 431.1,714.8 425.5,716.2 C419.9,717.6 413.4,718.4 407.3,718.0 C401.2,717.6 395.2,716.3 389.1,713.6 C383.0,710.9 375.8,706.5 370.9,701.9 C366.0,697.3 361.5,688.9 359.6,686.3 L395.5,570 L429.6,412 Z" fill="url(#petal)" stroke="#000" stroke-width="1" stroke-linejoin="round" />
<path d="M424.5,412 L388.5,570 L351.4,688.8 C349.2,685.5 343.2,677.3 338.0,669.2 C332.8,661.1 325.8,652.5 320.2,640.2 C314.6,628.0 308.9,612.4 304.6,595.7 C300.3,579.0 296.9,555.3 294.6,540.0 C292.3,524.7 291.9,512.1 291.0,503.8 C290.1,495.5 289.3,492.3 289.0,490.0 L405,410 Z" fill="url(#petal)" stroke="#000" stroke-width="1" stroke-linejoin="round" />
<path d="M404,391 L288.8,273.8 C287.3,281.2 282.4,303.6 280.0,318.0 C277.6,332.4 275.8,346.3 274.5,360.0 C273.2,373.7 272.7,386.7 272.5,400.0 C272.3,413.3 272.8,427.5 273.5,440.0 C274.2,452.5 275.2,463.6 276.5,475.0 C277.8,486.4 280.3,503.1 281.1,508.7 L407.3,417.1 Z" fill="url(#petal)" stroke="#000" stroke-width="1" stroke-linejoin="round" />
<path d="M404,391 L280.4,265.8 C282.9,254.6 288.6,219.0 295.5,198.8 C302.4,178.6 313.4,160.1 321.8,144.4 C330.2,128.7 342.1,111.4 346.2,104.8 L385,110 L420,250 L410,390 Z" fill="url(#petal)" stroke="#000" stroke-width="1" stroke-linejoin="round" />
<path d="M404.6,388 C403.8,381.7 401.7,364.7 399.5,350.0 C397.3,335.3 394.4,316.7 391.5,300.0 C388.6,283.3 385.5,266.7 382.2,250.0 C378.9,233.3 375.3,216.7 371.5,200.0 C367.7,183.3 363.0,164.5 359.4,150.0 C355.8,135.5 351.8,120.5 349.6,113.0 C347.4,105.5 346.8,106.2 346.2,104.8 C348.5,103.2 354.6,97.6 360.0,95.0 C365.4,92.4 372.2,90.1 378.9,89.4 C385.6,88.7 392.3,88.9 400.0,91.0 C407.7,93.1 416.8,96.2 425.0,102.0 C433.2,107.8 445.4,121.8 449.5,125.8 L450,140 L430,250 L406.6,386.6 Z" fill="url(#petal)" stroke="#000" stroke-width="1" stroke-linejoin="round" />
<path d="M406.6,386.6 L423.8,270 L435.9,123.4 C438.1,126.4 445.1,134.8 449.0,141.3 C452.9,147.8 455.7,152.6 459.6,162.4 C463.5,172.2 468.6,189.1 472.2,200.0 C475.8,210.9 478.4,219.3 481.0,228.0 C483.6,236.7 485.9,244.2 488.0,252.0 C490.1,259.8 491.9,267.7 493.7,275.0 C495.4,282.3 497.1,289.4 498.5,296.0 C499.9,302.6 501.8,311.6 502.4,314.7 C499.5,317.7 491.1,326.5 485.0,332.5 C478.9,338.5 474.1,343.0 465.7,350.8 C457.3,358.6 444.1,371.3 434.8,379.3 C425.5,387.3 414.1,395.7 410.0,399.0 L408,401 Z" fill="url(#petal)" stroke="#000" stroke-width="1" stroke-linejoin="round" />
<clipPath id="petclip"><path d="M445,405 L448.7,397.3 L500,340.9 L535.8,291.3 C536.2,295.3 537.8,310.2 538.5,320.0 C539.2,329.8 539.7,338.5 540.2,349.3 C540.7,360.1 541.4,373.4 541.6,385.0 C541.8,396.6 541.9,401.5 541.6,418.6 C541.3,435.8 540.5,467.6 539.8,487.9 C539.1,508.2 537.6,531.5 537.2,540.2 L529.4,529.8 L528,531 C527.8,530.0 529.8,531.5 526.7,525.0 C523.6,518.5 515.1,501.8 509.3,492.0 C503.5,482.2 497.8,474.1 492.0,466.0 C486.2,457.9 480.5,450.3 474.7,443.3 C468.9,436.3 462.6,429.9 457.3,424.2 C452.0,418.5 445.4,411.5 443.0,409.0 Z"/><path d="M438,410 L443,409 C445.4,411.5 452.0,418.5 457.3,424.2 C462.6,429.9 468.9,436.3 474.7,443.3 C480.5,450.3 486.2,457.9 492.0,466.0 C497.8,474.1 503.5,482.2 509.3,492.0 C515.1,501.8 523.6,518.5 526.7,525.0 C529.8,531.5 527.8,530.0 528.0,531.0 C526.8,535.8 523.2,549.2 520.8,560.0 C518.4,570.8 517.8,582.3 513.6,595.7 C509.4,609.1 501.7,626.8 495.8,640.2 C489.9,653.6 483.8,666.2 478.0,675.9 C472.2,685.5 464.1,694.4 461.3,698.1 L461.5,698 L457,570 L439.5,412 Z"/><path d="M432.8,412 L448.2,570 L452.4,698 C450.8,701.0 445.5,706.9 441.0,709.7 C436.5,712.5 431.1,714.8 425.5,716.2 C419.9,717.6 413.4,718.4 407.3,718.0 C401.2,717.6 395.2,716.3 389.1,713.6 C383.0,710.9 375.8,706.5 370.9,701.9 C366.0,697.3 361.5,688.9 359.6,686.3 L395.5,570 L429.6,412 Z"/><path d="M424.5,412 L388.5,570 L351.4,688.8 C349.2,685.5 343.2,677.3 338.0,669.2 C332.8,661.1 325.8,652.5 320.2,640.2 C314.6,628.0 308.9,612.4 304.6,595.7 C300.3,579.0 296.9,555.3 294.6,540.0 C292.3,524.7 291.9,512.1 291.0,503.8 C290.1,495.5 289.3,492.3 289.0,490.0 L405,410 Z"/><path d="M404,391 L288.8,273.8 C287.3,281.2 282.4,303.6 280.0,318.0 C277.6,332.4 275.8,346.3 274.5,360.0 C273.2,373.7 272.7,386.7 272.5,400.0 C272.3,413.3 272.8,427.5 273.5,440.0 C274.2,452.5 275.2,463.6 276.5,475.0 C277.8,486.4 280.3,503.1 281.1,508.7 L407.3,417.1 Z"/><path d="M404,391 L280.4,265.8 C282.9,254.6 288.6,219.0 295.5,198.8 C302.4,178.6 313.4,160.1 321.8,144.4 C330.2,128.7 342.1,111.4 346.2,104.8 L385,110 L420,250 L410,390 Z"/><path d="M404.6,388 C403.8,381.7 401.7,364.7 399.5,350.0 C397.3,335.3 394.4,316.7 391.5,300.0 C388.6,283.3 385.5,266.7 382.2,250.0 C378.9,233.3 375.3,216.7 371.5,200.0 C367.7,183.3 363.0,164.5 359.4,150.0 C355.8,135.5 351.8,120.5 349.6,113.0 C347.4,105.5 346.8,106.2 346.2,104.8 C348.5,103.2 354.6,97.6 360.0,95.0 C365.4,92.4 372.2,90.1 378.9,89.4 C385.6,88.7 392.3,88.9 400.0,91.0 C407.7,93.1 416.8,96.2 425.0,102.0 C433.2,107.8 445.4,121.8 449.5,125.8 L450,140 L430,250 L406.6,386.6 Z"/><path d="M406.6,386.6 L423.8,270 L435.9,123.4 C438.1,126.4 445.1,134.8 449.0,141.3 C452.9,147.8 455.7,152.6 459.6,162.4 C463.5,172.2 468.6,189.1 472.2,200.0 C475.8,210.9 478.4,219.3 481.0,228.0 C483.6,236.7 485.9,244.2 488.0,252.0 C490.1,259.8 491.9,267.7 493.7,275.0 C495.4,282.3 497.1,289.4 498.5,296.0 C499.9,302.6 501.8,311.6 502.4,314.7 C499.5,317.7 491.1,326.5 485.0,332.5 C478.9,338.5 474.1,343.0 465.7,350.8 C457.3,358.6 444.1,371.3 434.8,379.3 C425.5,387.3 414.1,395.7 410.0,399.0 L408,401 Z"/></clipPath>
<rect x="265" y="80" width="290" height="650" fill="url(#vshade)" clip-path="url(#petclip)"/>
<path d="M352.6,687.5 L389.6,570 L425.5,413" fill="none" stroke="#000" stroke-width="3.4"/>
<path d="M352.6,687.5 L389.6,570 L425.5,413" fill="none" stroke="#fff" stroke-width="1.5"/>
<path d="M433.8,413 L449.3,570 L453.6,698" fill="none" stroke="#000" stroke-width="3.4"/>
<path d="M433.8,413 L449.3,570 L453.6,698" fill="none" stroke="#fff" stroke-width="1.5"/>
<path d="M536.4,293.0 C537.0,297.5 539.0,310.6 539.9,320.0 C540.8,329.4 541.4,338.5 542.0,349.3 C542.6,360.1 543.2,373.4 543.4,385.0 C543.6,396.6 543.7,401.5 543.4,418.6 C543.1,435.8 542.4,468.7 541.6,487.9 C540.8,507.1 539.0,526.3 538.5,534.0 " fill="none" stroke="#000" stroke-width="3.4"/>
<path d="M536.4,293.0 C537.0,297.5 539.0,310.6 539.9,320.0 C540.8,329.4 541.4,338.5 542.0,349.3 C542.6,360.1 543.2,373.4 543.4,385.0 C543.6,396.6 543.7,401.5 543.4,418.6 C543.1,435.8 542.4,468.7 541.6,487.9 C540.8,507.1 539.0,526.3 538.5,534.0 " fill="none" stroke="#fbf8f0" stroke-width="1.8"/>
<path d="M527.0,533.0 C525.8,537.5 522.0,549.5 519.6,560.0 C517.2,570.5 516.6,582.3 512.4,595.7 C508.2,609.1 500.5,626.8 494.6,640.2 C488.7,653.6 482.5,666.4 476.8,675.9 C471.1,685.4 463.2,693.5 460.5,697.0 " fill="none" stroke="#000" stroke-width="2.6"/>
<path d="M527.0,533.0 C525.8,537.5 522.0,549.5 519.6,560.0 C517.2,570.5 516.6,582.3 512.4,595.7 C508.2,609.1 500.5,626.8 494.6,640.2 C488.7,653.6 482.5,666.4 476.8,675.9 C471.1,685.4 463.2,693.5 460.5,697.0 " fill="none" stroke="#d8d4c4" stroke-width="0.9"/><path d="M437.2,122.6 C439.4,125.6 446.4,134.1 450.4,140.6 C454.4,147.1 457.1,152.0 461.0,161.8 C464.9,171.6 470.0,188.6 473.6,199.5 C477.2,210.4 479.8,218.8 482.4,227.5 C485.0,236.2 487.3,243.8 489.4,251.6 C491.5,259.4 493.4,267.3 495.1,274.6 C496.9,281.9 498.4,289.0 499.9,295.6 C501.3,302.2 503.1,311.1 503.8,314.2 " fill="none" stroke="#000" stroke-width="2.8"/><path d="M437.2,122.6 C439.4,125.6 446.4,134.1 450.4,140.6 C454.4,147.1 457.1,152.0 461.0,161.8 C464.9,171.6 470.0,188.6 473.6,199.5 C477.2,210.4 479.8,218.8 482.4,227.5 C485.0,236.2 487.3,243.8 489.4,251.6 C491.5,259.4 493.4,267.3 495.1,274.6 C496.9,281.9 498.4,289.0 499.9,295.6 C501.3,302.2 503.1,311.1 503.8,314.2 " fill="none" stroke="#f4eee0" stroke-width="1"/><line x1="477" y1="209" x2="493.5" y2="250" stroke="#000" stroke-width="5" stroke-linecap="round"/><line x1="477" y1="209" x2="493.5" y2="250" stroke="#fff" stroke-width="3.2" stroke-linecap="round"/><path d="M443.0,409.0 C445.4,411.5 452.0,418.5 457.3,424.2 C462.6,429.9 468.9,436.3 474.7,443.3 C480.5,450.3 486.2,457.9 492.0,466.0 C497.8,474.1 503.5,482.2 509.3,492.0 C515.1,501.8 523.6,518.5 526.7,525.0 C529.8,531.5 527.8,530.0 528.0,531.0 " fill="none" stroke="#000" stroke-width="3.8"/><path d="M443.0,409.0 C445.4,411.5 452.0,418.5 457.3,424.2 C462.6,429.9 468.9,436.3 474.7,443.3 C480.5,450.3 486.2,457.9 492.0,466.0 C497.8,474.1 503.5,482.2 509.3,492.0 C515.1,501.8 523.6,518.5 526.7,525.0 C529.8,531.5 527.8,530.0 528.0,531.0 " fill="none" stroke="#fff" stroke-width="2" stroke-dasharray="14 2 9 2 5 2"/><path d="M458,425 L464,432" fill="none" stroke="#4abdfe" stroke-width="1.6"/>
<line x1="281.1" y1="508.7" x2="405" y2="418" stroke="#000" stroke-width="2"/>
<line x1="379" y1="438" x2="403" y2="420" stroke="#4abdfe" stroke-width="1.6"/>
<path d="M502.4,314.7 C499.5,317.7 491.1,326.5 485.0,332.5 C478.9,338.5 474.1,343.0 465.7,350.8 C457.3,358.6 443.8,371.5 434.8,379.3 C425.9,387.1 415.8,394.5 412.0,397.5 " fill="none" stroke="#000" stroke-width="2"/>
<ellipse cx="401" cy="404" rx="4.5" ry="13.5" fill="#b8b0a0" stroke="#000" stroke-width="0.9"/>
<path d="M404.7,397.8 L447,390.4 Q451,392 450.5,400 L450.5,410 Q450,413 446,414 L404.7,416.4 Z" fill="url(#spring)" stroke="#000" stroke-width="0.9"/>
<path d="M409.0,397.5 Q412.0,406 409.0,416.0" fill="none" stroke="#000" stroke-width="0.8"/>
<path d="M414.3,396.6 Q417.3,406 414.3,415.7" fill="none" stroke="#000" stroke-width="0.8"/>
<path d="M419.6,395.7 Q422.6,406 419.6,415.4" fill="none" stroke="#000" stroke-width="0.8"/>
<path d="M424.9,394.8 Q427.9,406 424.9,415.1" fill="none" stroke="#000" stroke-width="0.8"/>
<path d="M430.2,393.9 Q433.2,406 430.2,414.8" fill="none" stroke="#000" stroke-width="0.8"/>
<path d="M435.5,393.0 Q438.5,406 435.5,414.5" fill="none" stroke="#000" stroke-width="0.8"/>
<path d="M440.8,392.1 Q443.8,406 440.8,414.2" fill="none" stroke="#000" stroke-width="0.8"/>
<path d="M446.1,391.2 Q449.1,406 446.1,413.9" fill="none" stroke="#000" stroke-width="0.8"/>
<ellipse cx="396" cy="403.5" rx="3" ry="7.5" fill="none" stroke="#e0d000" stroke-width="1.4"/>
<circle cx="391.6" cy="403.9" r="6" fill="#f8f8ee" stroke="#000" stroke-width="0.7"/>
<line x1="386" y1="403.9" x2="397" y2="403.9" stroke="#000" stroke-width="0.7"/>

<path d="M63.3,743.8 L63.3,772.5 A28.7,28.7 0 0 0 92,743.8 Z" fill="#a4a6ae" fill-opacity="0.9"/>
<path d="M63.3,743.8 L63.3,759.6 A15.8,15.8 0 0 0 79.1,743.8 Z" fill="#5c6068"/>
<rect x="66" y="741.3" width="30" height="5.4" fill="#f01010"/>
<path d="M95,739 L101,744 L95,749.7 Z" fill="#e00000"/>
<rect x="60.4" y="745" width="5.8" height="31" fill="#2020e0"/>
<rect x="62.2" y="748" width="1.6" height="26" fill="#8080ff"/>
<path d="M57.8,775.9 L69.2,775.9 L63.5,782 Z" fill="#00008a"/>
<circle cx="63.3" cy="743.8" r="6" fill="#10e010"/>
<path d="M104.3,733.3 L110,744.5 M110,733.3 L104.3,744.5" stroke="#f00000" stroke-width="1.3" fill="none"/>
<path d="M60.3,732.8 L63.2,736.3 L66,732.8 M63.2,736.3 V739" stroke="#00d000" stroke-width="1.2" fill="none"/>
<path d="M60.2,782.3 H66 L60.2,787.5 H66.3" stroke="#0000e8" stroke-width="1.2" fill="none"/>

</svg>
</body></html>
